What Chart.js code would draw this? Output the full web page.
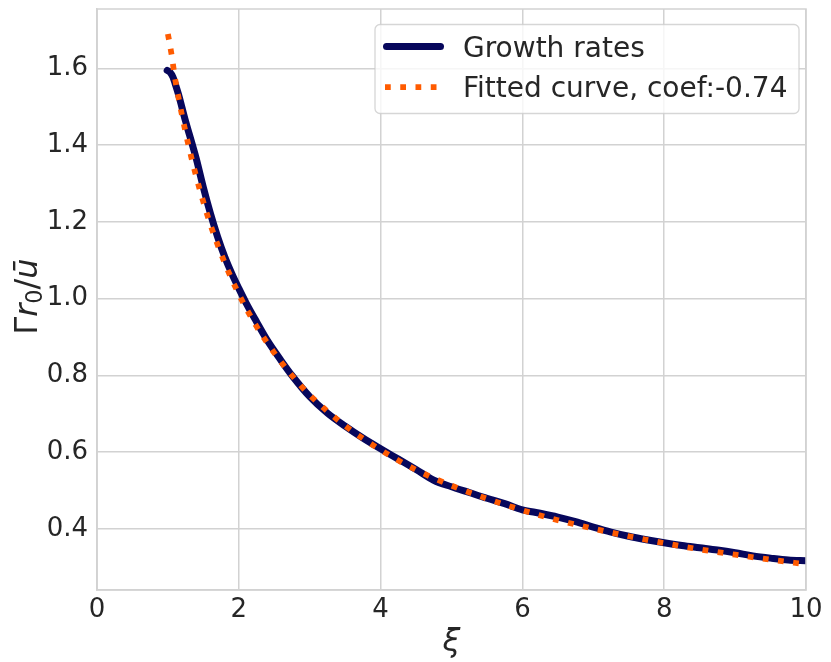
<!DOCTYPE html>
<html>
<head>
<meta charset="utf-8">
<script src="https://cdn.jsdelivr.net/npm/chart.js@4/dist/chart.umd.min.js"></script>
<style>
  html, body { margin: 0; padding: 0; background: #ffffff; }
  #wrap { width: 831px; height: 662px; }
</style>
</head>
<body>
<div id="wrap"><canvas id="chart" width="831" height="662"></canvas></div>
<script>
// Measured growth rates against xi
const growthX = [0.99, 1.03, 1.07, 1.10, 1.15, 1.20, 1.25, 1.30, 1.35, 1.40, 1.50, 1.60, 1.70, 1.80, 1.90,
                 2.00, 2.10, 2.25, 2.40, 2.60, 2.75, 3.00, 3.25, 3.50, 3.75, 4.00, 4.25, 4.50, 4.75,
                 5.00, 5.25, 5.50, 5.75, 6.00, 6.25, 6.50, 6.75, 7.00, 7.25, 7.50, 7.75, 8.00, 8.25,
                 8.50, 8.75, 9.00, 9.25, 9.50, 9.75, 10.0];
const growthY = [1.595, 1.590, 1.578, 1.562, 1.532, 1.497, 1.462, 1.430, 1.398, 1.365, 1.290, 1.222, 1.162, 1.110, 1.066,
                 1.027, 0.990, 0.940, 0.892, 0.838, 0.800, 0.745, 0.702, 0.668, 0.637, 0.609, 0.582, 0.555, 0.527,
                 0.510, 0.495, 0.480, 0.466, 0.450, 0.441, 0.431, 0.419, 0.405, 0.392, 0.381, 0.372, 0.364, 0.357,
                 0.351, 0.345, 0.338, 0.330, 0.324, 0.319, 0.317];

// Fitted curve
const fitX = [1.00, 1.05, 1.10, 1.15, 1.20, 1.30, 1.40, 1.50, 1.60, 1.80, 2.00, 2.25, 2.50, 2.75, 3.00,
              3.50, 4.00, 4.50, 5.00, 5.50, 6.00, 6.50, 7.00, 7.50, 8.00, 8.50, 9.00, 9.50, 10.0];
const fitY = [1.690, 1.638, 1.575, 1.524, 1.477, 1.392, 1.318, 1.252, 1.193, 1.094, 1.012, 0.928, 0.859, 0.800, 0.749,
              0.669, 0.606, 0.554, 0.513, 0.479, 0.449, 0.423, 0.401, 0.381, 0.363, 0.347, 0.333, 0.320, 0.308];

const xTicks = [0, 2, 4, 6, 8, 10];
const yTicks = [0.4, 0.6, 0.8, 1.0, 1.2, 1.4, 1.6];
const seriesLabels = ['Growth rates', 'Fitted curve, coef:-0.74'];
const xTitle = 'ξ';

const TEXT = '#262626';
const GRID = '#d2d2d2';
const FONT = "'DejaVu Sans', sans-serif";

const toPoints = (xs, ys) => xs.map((x, i) => ({ x: x, y: ys[i] }));

// Frame around the plot area (all four spines)
const framePlugin = {
  id: 'frame',
  afterDraw(chart) {
    const { ctx, chartArea: a } = chart;
    ctx.save();
    ctx.strokeStyle = GRID;
    ctx.lineWidth = 1.5;
    ctx.strokeRect(a.left, a.top, a.right - a.left, a.bottom - a.top);
    ctx.restore();
  }
};

// y-axis title written as mathematical text: Γ r_0 / ū
const yTitlePlugin = {
  id: 'yTitle',
  afterDraw(chart) {
    const { ctx, chartArea: a } = chart;
    const size = 32;
    const parts = [
      { t: 'Γ', style: 'normal', size: size, dy: 0 },
      { t: 'r', style: 'italic', size: size, dy: 0 },
      { t: '0', style: 'normal', size: size * 0.7, dy: size * 0.16 },
      { t: '/', style: 'normal', size: size, dy: 0 },
      { t: 'ū', style: 'italic', size: size, dy: 0 }
    ];
    ctx.save();
    ctx.fillStyle = TEXT;
    ctx.textBaseline = 'alphabetic';
    ctx.textAlign = 'left';
    let total = 0;
    parts.forEach(p => {
      ctx.font = `${p.style} ${p.size}px ${FONT}`;
      p.w = ctx.measureText(p.t).width;
      total += p.w;
    });
    ctx.translate(37, (a.top + a.bottom) / 2 - 3);
    ctx.rotate(-Math.PI / 2);
    let x = -total / 2;
    parts.forEach(p => {
      ctx.font = `${p.style} ${p.size}px ${FONT}`;
      ctx.fillText(p.t, x, p.dy);
      x += p.w;
    });
    ctx.restore();
  }
};

// Legend box inside the upper right corner of the plot
const legendPlugin = {
  id: 'innerLegend',
  afterDraw(chart) {
    const { ctx } = chart;
    const box = { x: 375, y: 24.5, w: 424, h: 89, r: 5 };
    ctx.save();
    ctx.beginPath();
    ctx.roundRect(box.x, box.y, box.w, box.h, box.r);
    ctx.fillStyle = 'rgba(255,255,255,0.8)';
    ctx.fill();
    ctx.strokeStyle = 'rgba(204,204,204,0.8)';
    ctx.lineWidth = 1.3;
    ctx.stroke();

    const rows = [46.5, 87];
    chart.data.datasets.forEach((ds, i) => {
      const yc = rows[i];
      ctx.save();
      ctx.strokeStyle = ds.borderColor;
      ctx.lineWidth = ds.borderWidth;
      ctx.lineCap = ds.borderCapStyle;
      ctx.setLineDash(ds.borderDash || []);
      ctx.beginPath();
      if (ds.borderDash && ds.borderDash.length) {
        ctx.moveTo(385, yc);
        ctx.lineTo(441, yc);
      } else {
        ctx.moveTo(386.5, yc);
        ctx.lineTo(440.5, yc);
      }
      ctx.stroke();
      ctx.restore();
      ctx.fillStyle = TEXT;
      ctx.font = `28px ${FONT}`;
      ctx.textBaseline = 'alphabetic';
      ctx.textAlign = 'left';
      ctx.fillText(ds.label, 463, yc + 10);
    });
    ctx.restore();
  }
};

new Chart(document.getElementById('chart'), {
  type: 'line',
  data: {
    datasets: [
      {
        label: seriesLabels[0],
        data: toPoints(growthX, growthY),
        borderColor: '#07075c',
        borderWidth: 7,
        borderCapStyle: 'round',
        borderJoinStyle: 'round',
        pointRadius: 0,
        cubicInterpolationMode: 'monotone',
        fill: false,
        clip: 0,
        order: 2
      },
      {
        label: seriesLabels[1],
        data: toPoints(fitX, fitY),
        borderColor: '#ff5b00',
        borderWidth: 5.75,
        borderDash: [5.75, 9.5],
        borderCapStyle: 'butt',
        pointRadius: 0,
        cubicInterpolationMode: 'monotone',
        fill: false,
        clip: 0,
        order: 1
      }
    ]
  },
  options: {
    responsive: false,
    animation: false,
    devicePixelRatio: 1,
    layout: { padding: { top: 9, right: 25, left: 0, bottom: 0 } },
    plugins: {
      legend: { display: false },
      tooltip: { enabled: false }
    },
    scales: {
      x: {
        type: 'linear',
        min: 0,
        max: 10,
        afterBuildTicks: s => { s.ticks = xTicks.map(v => ({ value: v })); },
        afterFit: s => { s.height = 72; s.paddingLeft = 0; s.paddingRight = 0; },
        ticks: {
          color: TEXT,
          font: { family: FONT, size: 26 },
          padding: 5,
          maxRotation: 0,
          autoSkip: false,
          callback: v => String(v)
        },
        grid: { color: GRID, lineWidth: 1.5, drawTicks: false },
        border: { display: true, color: GRID, width: 1.5 },
        title: {
          display: true,
          text: xTitle,
          color: TEXT,
          font: { family: FONT, size: 32, style: 'italic' },
          padding: { top: 0, bottom: 0 }
        }
      },
      y: {
        type: 'linear',
        min: 0.241,
        max: 1.755,
        afterBuildTicks: s => { s.ticks = yTicks.map(v => ({ value: v })); },
        afterFit: s => { s.width = 97; s.paddingTop = 0; s.paddingBottom = 0; },
        ticks: {
          color: TEXT,
          font: { family: FONT, size: 26 },
          padding: 9,
          autoSkip: false,
          callback: v => v.toFixed(1)
        },
        grid: { color: GRID, lineWidth: 1.5, drawTicks: false },
        border: { display: true, color: GRID, width: 1.5 }
      }
    }
  },
  plugins: [framePlugin, yTitlePlugin, legendPlugin]
});
</script>
</body>
</html>
